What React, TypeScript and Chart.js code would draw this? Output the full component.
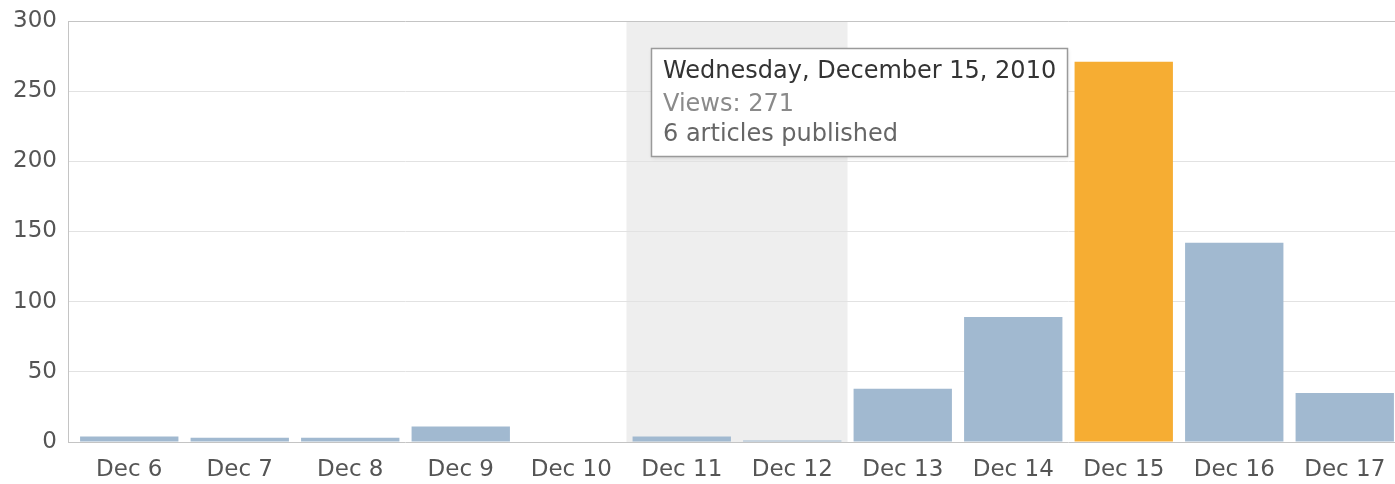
import React, { useEffect, useRef } from "react";
import { Chart, registerables } from "chart.js";

Chart.register(...registerables);

const categories = ["Dec 6", "Dec 7", "Dec 8", "Dec 9", "Dec 10", "Dec 11", "Dec 12", "Dec 13", "Dec 14", "Dec 15", "Dec 16", "Dec 17"];
const views = [4, 3, 3, 11, 0, 4, 1, 38, 89, 271, 142, 35];
const weekendIdx = [5, 6];
const highlightIdx = 9;
const tooltipLines = ["Wednesday, December 15, 2010", "Views: 271", "6 articles published"];
const yTicks = [0, 50, 100, 150, 200, 250, 300];

const FONT = "'DejaVu Sans', Verdana, sans-serif";
const BLUE = "#a1b9d0";
const ORANGE = "#f6ad33";

const weekendPlugin = {
  id: "weekendShade",
  beforeDraw(chart: any) {
    const { ctx, chartArea } = chart;
    const xs = chart.scales.x;
    const half = (chartArea.right - chartArea.left) / categories.length / 2;
    const x0 = xs.getPixelForValue(weekendIdx[0]) - half;
    const x1 = xs.getPixelForValue(weekendIdx[weekendIdx.length - 1]) + half;
    ctx.save();
    ctx.fillStyle = "#eeeeee";
    ctx.fillRect(x0, chartArea.top, x1 - x0, chartArea.bottom - chartArea.top);
    ctx.restore();
  },
};

const axisPlugin = {
  id: "axisLine",
  afterDraw(chart: any) {
    const { ctx, chartArea } = chart;
    const x = chartArea.left - 6 + 0.5;
    ctx.save();
    ctx.strokeStyle = "#c4c4c4";
    ctx.lineWidth = 1;
    ctx.beginPath();
    ctx.moveTo(x, chartArea.top);
    ctx.lineTo(x, chartArea.bottom);
    ctx.stroke();
    ctx.restore();
  },
};

const tooltipPlugin = {
  id: "fixedTooltip",
  afterDraw(chart: any) {
    const { ctx } = chart;
    const el = chart.getDatasetMeta(0).data[highlightIdx];
    if (!el) return;
    ctx.save();
    ctx.font = `24px ${FONT}`;
    const w = Math.max(...tooltipLines.map((t) => ctx.measureText(t).width));
    const boxW = Math.round(w + 23);
    const boxH = 108;
    const right = Math.round(el.x - el.width / 2 - 8);
    const left = right - boxW;
    const top = Math.round(el.y - 14);
    ctx.shadowColor = "rgba(0,0,0,0.12)";
    ctx.shadowBlur = 4;
    ctx.shadowOffsetX = 1;
    ctx.shadowOffsetY = 2;
    ctx.fillStyle = "#ffffff";
    ctx.fillRect(left, top, boxW, boxH);
    ctx.shadowColor = "transparent";
    ctx.strokeStyle = "#9a9a9a";
    ctx.lineWidth = 1.5;
    ctx.strokeRect(left + 0.5, top + 0.5, boxW, boxH);
    const colors = ["#333333", "#8a8a8a", "#666666"];
    const baselines = [30, 63, 93];
    ctx.textBaseline = "alphabetic";
    ctx.textAlign = "left";
    tooltipLines.forEach((t, i) => {
      ctx.fillStyle = colors[i];
      ctx.fillText(t, left + 12, top + baselines[i]);
    });
    ctx.restore();
  },
};

export default function App() {
  const ref = useRef<HTMLCanvasElement>(null);
  useEffect(() => {
    if (!ref.current) return;
    const chart = new Chart(ref.current, {
      type: "bar",
      data: {
        labels: categories,
        datasets: [
          {
            data: views,
            backgroundColor: views.map((_, i) => (i === highlightIdx ? ORANGE : BLUE)),
            borderWidth: 0,
            barPercentage: 0.89,
            categoryPercentage: 1,
          },
        ],
      },
      options: {
        animation: false,
        responsive: false,
        devicePixelRatio: 1,
        layout: { padding: { top: 21, right: 0, left: 0, bottom: 0 } },
        plugins: { legend: { display: false }, tooltip: { enabled: false } },
        scales: {
          x: {
            grid: { display: false, drawTicks: false },
            border: { display: false },
            ticks: { color: "#555555", font: { family: FONT, size: 23 }, padding: 14, maxRotation: 0, autoSkip: false },
            afterFit(scale: any) {
              scale.height = 42;
              scale.paddingLeft = 0;
              scale.paddingRight = 0;
            },
          },
          y: {
            min: 0,
            max: 300,
            afterBuildTicks(scale: any) {
              scale.ticks = yTicks.map((v) => ({ value: v }));
            },
            grid: {
              color: (c: any) => (c.tick && (c.tick.value === 300 || c.tick.value === 0) ? "#c4c4c4" : "#e2e2e2"),
              drawTicks: true,
              tickLength: 6,
            },
            border: { display: false },
            ticks: { color: "#555555", font: { family: FONT, size: 23 }, padding: 11 },
            afterFit(scale: any) {
              scale.width = 74;
              scale.paddingTop = 0;
              scale.paddingBottom = 0;
            },
          },
        },
      },
      plugins: [weekendPlugin, axisPlugin, tooltipPlugin],
    });
    return () => chart.destroy();
  }, []);
  return (
    <div style={{ position: "fixed", left: 0, top: 0, width: 1395, height: 484, overflow: "hidden", background: "#fff" }}>
      <canvas ref={ref} width={1400} height={484} style={{ width: 1400, height: 484, display: "block" }} />
    </div>
  );
}
